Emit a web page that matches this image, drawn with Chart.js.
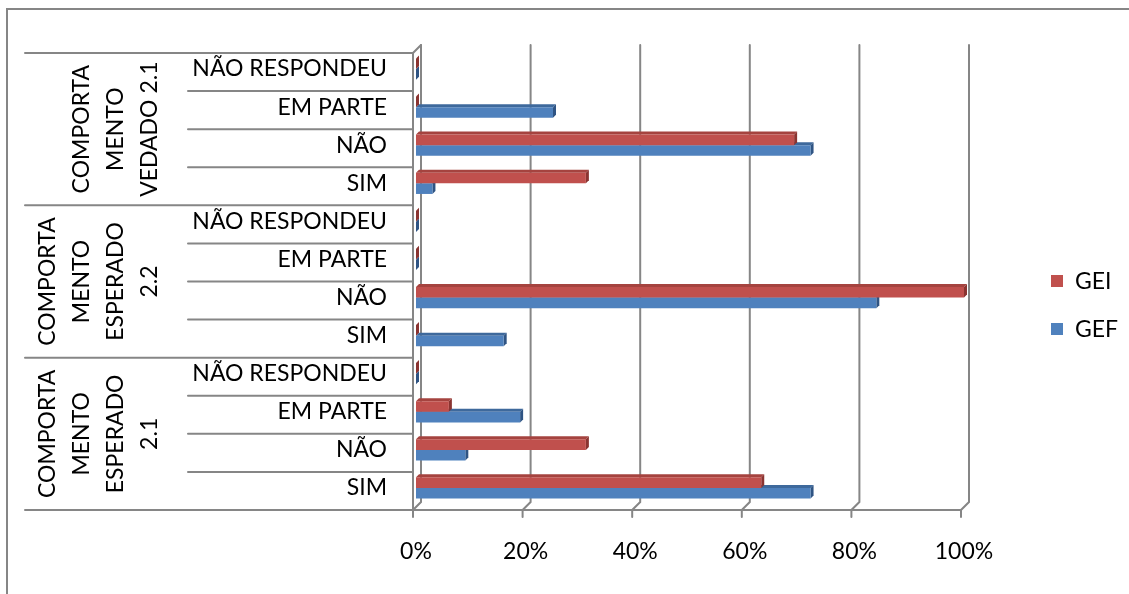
<!DOCTYPE html>
<html>
<head>
<meta charset="utf-8">
<script src="https://cdn.jsdelivr.net/npm/chart.js@4/dist/chart.umd.min.js"></script>
<style>
    html, body { margin: 0; padding: 0; background: #fff; }
    #wrap { width: 1129px; height: 594px; position: relative; }
</style>
</head>
<body>
<div id="wrap"><canvas id="grafico"></canvas></div>
<script>
// Categorias (de cima para baixo) e grupos da tabela à esquerda
const categorias = [
    'NÃO RESPONDEU', 'EM PARTE', 'NÃO', 'SIM',
    'NÃO RESPONDEU', 'EM PARTE', 'NÃO', 'SIM',
    'NÃO RESPONDEU', 'EM PARTE', 'NÃO', 'SIM'
];
const grupos = [
    ['COMPORTA', 'MENTO', 'VEDADO 2.1'],
    ['COMPORTA', 'MENTO', 'ESPERADO', '2.2'],
    ['COMPORTA', 'MENTO', 'ESPERADO', '2.1']
];
const valoresGEI = [0, 0, 69, 31, 0, 0, 100, 0, 0, 6, 31, 63];
const valoresGEF = [0, 25, 72, 3, 0, 0, 84, 16, 0, 19, 9, 72];
const ticksX = [0, 20, 40, 60, 80, 100];

const FONTE = 'Lato';
const TAM = 23;
const CINZA = '#868686';
const PROF = 3;          // profundidade das barras
const FRENTE = [-3, 3];  // deslocamento do plano da frente
const FUNDO = [5, -5];   // deslocamento da parede do fundo

const faces = {
    GEI: { topo: '#A5433F', lado: '#8A3431' },
    GEF: { topo: '#3E699C', lado: '#2F5483' }
};

// Linhas de grade, paredes, tabela de categorias e faces 3D das barras
const cenario = {
    id: 'cenario',
    beforeDatasetsDraw(chart) {
        const ctx = chart.ctx;
        const a = chart.chartArea;
        const sx = chart.scales.x;
        const n = categorias.length;
        const banda = (a.bottom - a.top) / n;

        ctx.save();
        ctx.strokeStyle = CINZA;
        ctx.lineWidth = 2;
        ctx.lineCap = 'round';

        // grade vertical no fundo + chão
        const yBaseF = a.bottom + FRENTE[1];
        ticksX.forEach(v => {
            const px = sx.getPixelForValue(v);
            ctx.beginPath();
            ctx.moveTo(px + FUNDO[0], a.top + FUNDO[1]);
            ctx.lineTo(px + FUNDO[0], a.bottom + FUNDO[1]);
            ctx.lineTo(px + FRENTE[0], yBaseF);
            ctx.lineTo(px + FRENTE[0], yBaseF + 7);
            ctx.stroke();
        });
        ctx.beginPath();
        ctx.moveTo(sx.getPixelForValue(0) + FRENTE[0], yBaseF);
        ctx.lineTo(sx.getPixelForValue(100) + FRENTE[0], yBaseF);
        ctx.stroke();

        // parede lateral esquerda
        const xF = a.left + FRENTE[0];
        const yTopF = a.top + FRENTE[1];
        ctx.beginPath();
        ctx.moveTo(xF, yBaseF);
        ctx.lineTo(xF, yTopF);
        ctx.lineTo(a.left + FUNDO[0], a.top + FUNDO[1]);
        ctx.stroke();

        // tabela de categorias
        for (let i = 0; i <= n; i++) {
            const y = yTopF + i * banda;
            const x0 = (i % 4 === 0) ? 25 : 188;
            ctx.beginPath();
            ctx.moveTo(x0, y);
            ctx.lineTo(xF, y);
            ctx.stroke();
        }

        // rótulos dos grupos (texto vertical)
        ctx.fillStyle = '#000';
        ctx.font = TAM + 'px ' + FONTE;
        ctx.textAlign = 'center';
        ctx.textBaseline = 'middle';
        grupos.forEach((linhas, g) => {
            const yc = yTopF + (g * 4 + 2) * banda;
            linhas.forEach((txt, k) => {
                const xc = 149 - (linhas.length - 1 - k) * 34;
                ctx.save();
                ctx.translate(xc, yc);
                ctx.rotate(-Math.PI / 2);
                ctx.fillText(txt, 0, 1);
                ctx.restore();
            });
        });

        // faces superiores e laterais das barras (GEF primeiro, GEI por cima)
        for (let d = chart.data.datasets.length - 1; d >= 0; d--) {
            const ds = chart.data.datasets[d];
            const cor = faces[ds.label];
            chart.getDatasetMeta(d).data.forEach(bar => {
                const p = bar.getProps(['x', 'y', 'base', 'height'], true);
                const top = p.y - p.height / 2;
                const bot = p.y + p.height / 2;
                ctx.fillStyle = cor.topo;
                ctx.beginPath();
                ctx.moveTo(p.base, top);
                ctx.lineTo(p.x, top);
                ctx.lineTo(p.x + PROF, top - PROF);
                ctx.lineTo(p.base + PROF, top - PROF);
                ctx.closePath();
                ctx.fill();
                ctx.fillStyle = cor.lado;
                ctx.beginPath();
                ctx.moveTo(p.x, top);
                ctx.lineTo(p.x + PROF, top - PROF);
                ctx.lineTo(p.x + PROF, bot - PROF);
                ctx.lineTo(p.x, bot);
                ctx.closePath();
                ctx.fill();
            });
        }
        ctx.restore();
    },
    afterDraw(chart) {
        const ctx = chart.ctx;
        ctx.save();
        // legenda
        ctx.font = TAM + 'px ' + FONTE;
        ctx.textBaseline = 'middle';
        ctx.textAlign = 'left';
        chart.data.datasets.forEach((ds, i) => {
            const y = 281 + i * 48;
            ctx.fillStyle = ds.backgroundColor;
            ctx.fillRect(1051, y - 6, 12, 12);
            ctx.fillStyle = '#000';
            ctx.fillText(ds.label, 1075, y + 1);
        });
        // moldura
        ctx.strokeStyle = CINZA;
        ctx.lineWidth = 2;
        ctx.beginPath();
        ctx.moveTo(7, 600);
        ctx.lineTo(7, 9);
        ctx.lineTo(1130, 9);
        ctx.stroke();
        ctx.restore();
    }
};

new Chart(document.getElementById('grafico'), {
    type: 'bar',
    data: {
        labels: categorias,
        datasets: [
            { label: 'GEI', data: valoresGEI, backgroundColor: '#C0504D' },
            { label: 'GEF', data: valoresGEF, backgroundColor: '#4F81BD' }
        ]
    },
    options: {
        indexAxis: 'y',
        responsive: true,
        maintainAspectRatio: false,
        animation: false,
        events: [],
        layout: { padding: { left: 0, right: 165, top: 50, bottom: 0 } },
        datasets: { bar: { categoryPercentage: 0.56, barPercentage: 1.0 } },
        plugins: { legend: { display: false }, tooltip: { enabled: false } },
        scales: {
            x: {
                min: 0,
                max: 100,
                afterBuildTicks(scale) { scale.ticks = ticksX.map(v => ({ value: v })); },
                afterFit(scale) { scale.height = 87; },
                grid: { display: false, drawTicks: false },
                border: { display: false },
                ticks: {
                    padding: 31,
                    color: '#000',
                    maxRotation: 0,
                    font: { family: FONTE, size: TAM },
                    callback: v => v + '%'
                }
            },
            y: {
                afterFit(scale) { scale.width = 416; },
                grid: { display: false, drawTicks: false },
                border: { display: false },
                ticks: {
                    padding: 29,
                    color: '#000',
                    autoSkip: false,
                    font: { family: FONTE, size: TAM }
                }
            }
        }
    },
    plugins: [cenario]
});
</script>
</body>
</html>
